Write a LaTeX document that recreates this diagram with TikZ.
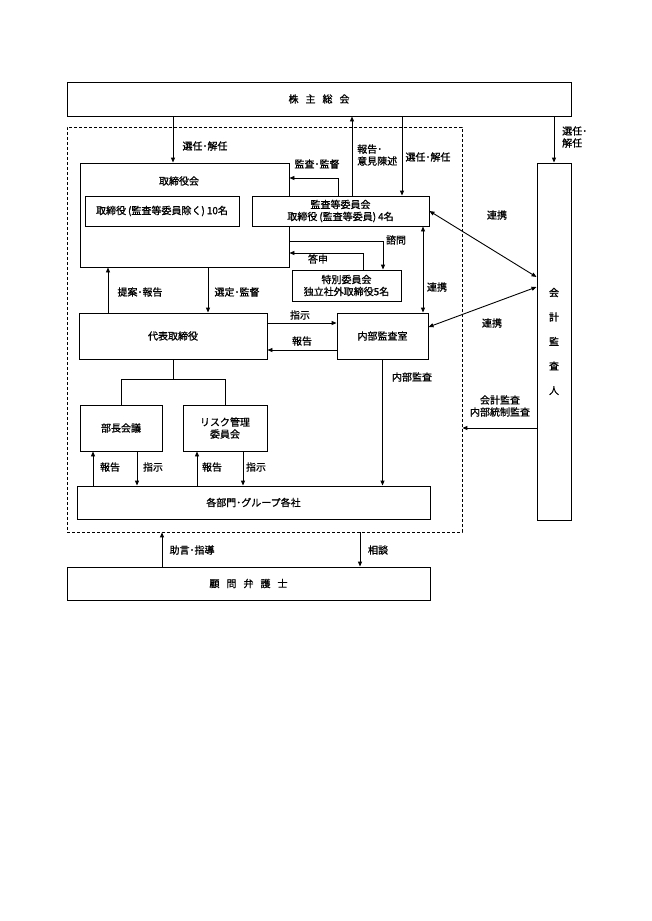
\documentclass[tikz,border=0pt]{standalone}
\usepackage{fontspec}
\setmainfont{Noto Sans CJK JP}[FakeBold=1]
\usetikzlibrary{arrows.meta}
\tikzset{
  >={Triangle[length=5pt,width=4pt]},
  font=\fontsize{10}{12}\selectfont,
  box/.style 2 args={
    draw,
    fill=white,
    line width=0.9pt,
    minimum width=#1,
    minimum height=#2,
    inner sep=1pt,
    align=center,
  },
  frame/.style={
    draw,
    line width=0.8pt,
    dash pattern=on 3pt off 2pt,
    minimum width=395,
    minimum height=405,
  },
  conn/.style={line width=0.9pt},
  lbl/.style={inner sep=0pt, align=center},
  wide/.style={execute at begin node={\spaceskip=7pt\relax}},
}
\begin{document}
\begin{tikzpicture}[x=1pt,y=-1pt]
  \fill[white] (0,0) rectangle (651,921);

  % --- boxes ---
  \node[frame] (frame) at (264.5,329.5) {};
  \node[box={504}{34}, wide] (kabu) at (319,99) {株 主 総 会};
  \node[box={209}{104}] (tori) at (184.5,215) {};
  \node[lbl] (toriT) at (179,181) {取締役会};
  \node[box={154}{30}] (dir10) at (162,211) {取締役\kern2pt(監査等委員除く)\kern2pt10名};
  \node[box={177}{30}] (kansa) at (340.5,211) {監査等委員会\\取締役\kern2pt(監査等委員)\kern2pt4名};
  \node[box={109}{31}] (toku) at (346.5,285.5) {特別委員会\\独立社外取締役5名};
  \node[box={188}{46}] (daihyo) at (173,336) {代表取締役};
  \node[box={91}{46}] (naibu) at (382.5,336) {内部監査室};
  \node[box={82}{46}] (bucho) at (121,428) {部長会議};
  \node[box={84}{46}] (risk) at (225,428) {リスク管理\\委員会};
  \node[box={353}{33}] (kakubu) at (253.5,502.5) {各部門･グループ各社};
  \node[box={363}{33}, wide] (komon) at (248.5,583.5) {顧 問 弁 護 士};
  \node[box={34}{357}, font=\fontsize{10}{24.5}\selectfont] (kaikei) at (554,341.5) {会\\計\\監\\査\\人};

  % --- helper lines ---
  \foreach \n/\x in {senT/173, hokK/352, senK/402, kanK/338, toshin/363,
    shimon/383, renV/423, teian/108, sentei/208, bHok/93, bShi/137,
    rHok/197, rShi/243, jogen/162, sodan/360} {
    \coordinate (\n) at (\x,0);
  }
  \foreach \n/\y in {kanY/178, shimonY/241, toshinY/253, shijiY/323,
    hokokuY/350, treeY/379, renA/277, renB/327, renC/287, kaiY/428} {
    \coordinate (\n) at (0,\y);
  }

  % --- connectors ---
  \draw[conn, ->] (kabu.south -| senT) -- (tori.north -| senT);
  \draw[conn, ->] (kansa.north -| hokK) -- (kabu.south -| hokK);
  \draw[conn, ->] (kabu.south -| senK) -- (kansa.north -| senK);
  \draw[conn, ->] (kansa.north -| kanK) |- (tori.east |- kanY);
  \draw[conn, ->] (tori.east |- shimonY) -| (toku.north -| shimon);
  \draw[conn, ->] (toku.north -| toshin) |- (tori.east |- toshinY);
  \draw[conn, <->] (kansa.south -| renV) -- (naibu.north -| renV);
  \draw[conn, ->] (daihyo.north -| teian) -- (tori.south -| teian);
  \draw[conn, ->] (tori.south -| sentei) -- (daihyo.north -| sentei);
  \draw[conn, ->] (daihyo.east |- shijiY) -- (naibu.west |- shijiY);
  \draw[conn, ->] (naibu.west |- hokokuY) -- (daihyo.east |- hokokuY);
  \draw[conn] (daihyo.south) -- (daihyo.south |- treeY);
  \draw[conn] (bucho.north) |- (risk.north |- treeY) -- (risk.north);
  \draw[conn, ->] (kakubu.north -| bHok) -- (bucho.south -| bHok);
  \draw[conn, ->] (bucho.south -| bShi) -- (kakubu.north -| bShi);
  \draw[conn, ->] (kakubu.north -| rHok) -- (risk.south -| rHok);
  \draw[conn, ->] (risk.south -| rShi) -- (kakubu.north -| rShi);
  \draw[conn, ->] (naibu.south) -- (naibu.south |- kakubu.north);
  \draw[conn, ->] (komon.north -| jogen) -- (frame.south -| jogen);
  \draw[conn, ->] (frame.south -| sodan) -- (komon.north -| sodan);
  \draw[conn, ->] (kabu.south -| kaikei.north) -- (kaikei.north);
  \draw[conn, <->] (kansa.east) -- (kaikei.west |- renA);
  \draw[conn, <->] (naibu.east |- renB) -- (kaikei.west |- renC);
  \draw[conn, ->] (kaikei.west |- kaiY) -- (frame.east |- kaiY);

  % --- labels ---
  \node[lbl] (lSenT) at (205,146) {選任･解任};
  \node[lbl, anchor=west, align=left] (lHokK) at (357,155) {報告･\\意見陳述};
  \node[lbl] (lSenK) at (428,157) {選任･解任};
  \node[lbl] (lKan) at (317,164) {監査･監督};
  \node[lbl] (lShimon) at (396,240) {諮問};
  \node[lbl] (lToshin) at (318,259) {答申};
  \node[lbl] (lRenV) at (437,287) {連携};
  \node[lbl] (lTeian) at (140,292) {提案･報告};
  \node[lbl] (lSentei) at (237,292) {選定･監督};
  \node[lbl] (lShiji) at (300,315) {指示};
  \node[lbl] (lHokoku) at (302,341) {報告};
  \node[lbl] (lNaiA) at (412,377) {内部監査};
  \node[lbl] (lbHok) at (110,467) {報告};
  \node[lbl] (lbShi) at (153,467) {指示};
  \node[lbl] (lrHok) at (212,467) {報告};
  \node[lbl] (lrShi) at (256,467) {指示};
  \node[lbl] (lJogen) at (192,550) {助言･指導};
  \node[lbl] (lSodan) at (378,550) {相談};
  \node[lbl, anchor=west, align=left] (lSenA) at (562,137) {選任･\\解任};
  \node[lbl] (lRenA) at (497,215) {連携};
  \node[lbl] (lRenB) at (492,323) {連携};
  \node[lbl] (lKai) at (500,406) {会計監査\\内部統制監査};
\end{tikzpicture}
\end{document}
